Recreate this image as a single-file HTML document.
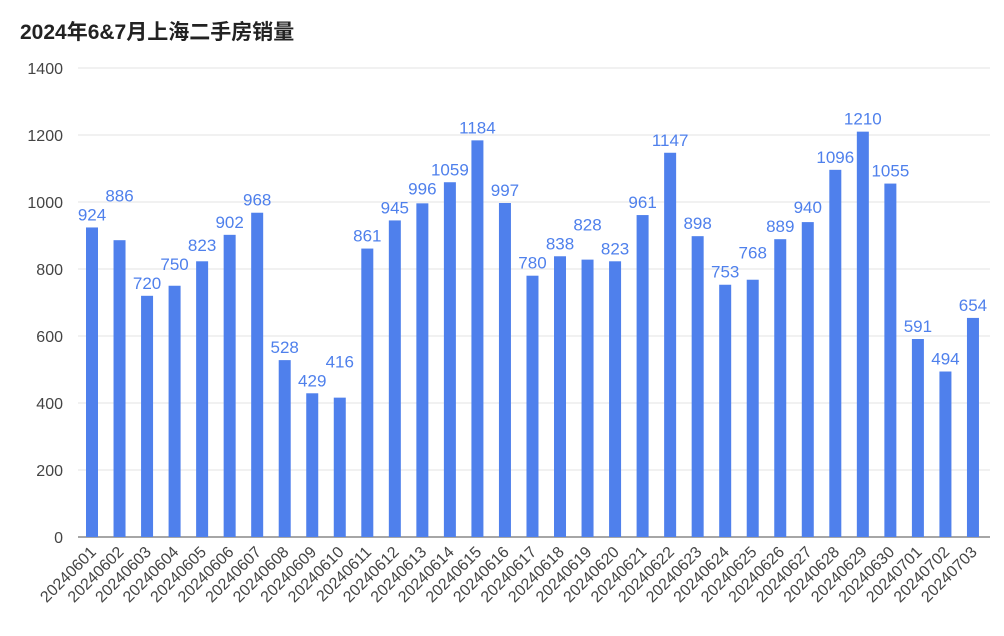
<!DOCTYPE html>
<html><head><meta charset="utf-8"><style>
body{margin:0;background:#fff;}
svg{display:block;font-family:"Liberation Sans","Noto Sans CJK SC",sans-serif;}
</style></head><body>
<svg id="c" width="1004" height="636">
<text x="20" y="39" font-size="21" font-weight="bold" fill="#222">2024年6&amp;7月上海二手房销量</text>
<g id="grid"></g><g id="bars"></g><g id="labels"></g><g id="xl"></g>
</svg>
<script>
const categories=["20240601","20240602","20240603","20240604","20240605","20240606","20240607","20240608","20240609","20240610","20240611","20240612","20240613","20240614","20240615","20240616","20240617","20240618","20240619","20240620","20240621","20240622","20240623","20240624","20240625","20240626","20240627","20240628","20240629","20240630","20240701","20240702","20240703"];
const values=[924,886,720,750,823,902,968,528,429,416,861,945,996,1059,1184,997,780,838,828,823,961,1147,898,753,768,889,940,1096,1210,1055,591,494,654];
const yTicks=[0,200,400,600,800,1000,1200,1400];
const NS="http://www.w3.org/2000/svg";
const y0=537,yTop=68,x0=78,x1=990;
const yS=v=>y0-(v/1400)*(y0-yTop);
const xS=i=>92+i*27.53;
function mk(t,a,p){const e=document.createElementNS(NS,t);for(const k in a)e.setAttribute(k,a[k]);p.appendChild(e);return e;}
const g=document.getElementById('grid');
yTicks.forEach(v=>{
 const l=mk('line',{x1:x0,x2:x1,y1:yS(v),y2:yS(v),stroke:v===0?'#888':'#e3e3e3','stroke-width':v===0?1.5:1},g);
 
 
 const t=mk('text',{x:63,y:yS(v)+6,'text-anchor':'end','font-size':16,fill:'#444'},g);
 t.textContent=v;
 
 
});
const b=document.getElementById('bars'),lb=document.getElementById('labels'),xl=document.getElementById('xl');
let prev=null;
values.forEach((v,i)=>{
 const r=mk('rect',{x:xS(i)-6,y:yS(v),width:12,height:y0-yS(v),fill:'#4f80ec'},b);
 
 
 let cy=yS(v)-13;
 if(prev!==null&&Math.abs(cy-prev)<20)cy=prev-19;
 prev=cy;
 const t=mk('text',{x:xS(i),y:cy+6,'text-anchor':'middle','font-size':17,fill:'#4f80ec'},lb);
 t.textContent=v;
 
 
 const xt=mk('text',{x:xS(i)+5,y:y0+16,'text-anchor':'end','font-size':16,fill:'#444',transform:`rotate(-45 ${xS(i)+5} ${y0+16})`},xl);
 xt.textContent=categories[i];
 
 
});
</script>
</body></html>
